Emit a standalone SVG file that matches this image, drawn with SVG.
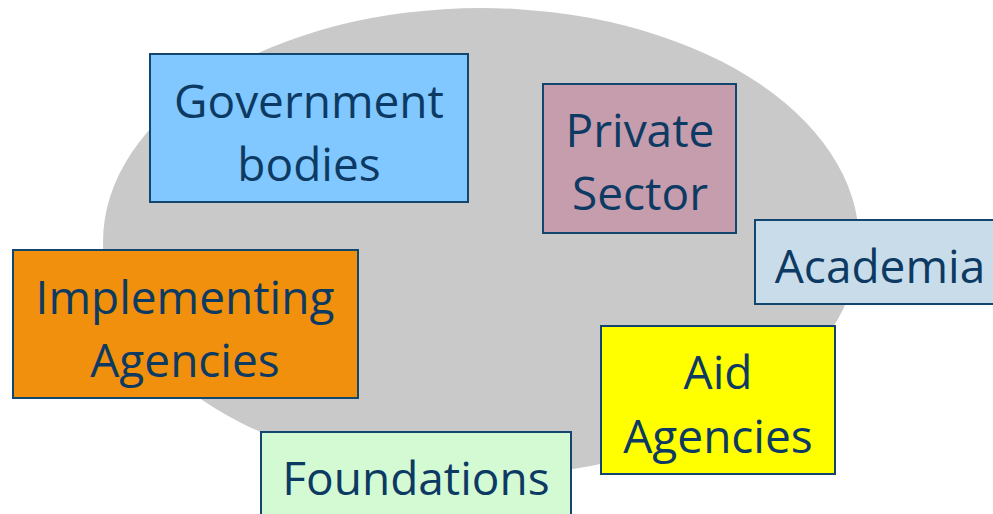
<svg xmlns="http://www.w3.org/2000/svg" width="993" height="514" viewBox="0 0 993 514">
<style>
.box{stroke:#13466f;stroke-width:2}
.t{font-family:"Open Sans","Noto Sans","Liberation Sans",sans-serif;font-size:46px;fill:#0d3a63;text-anchor:middle}
</style>
<rect width="993" height="514" fill="#ffffff"/>
<ellipse id="cloud" cx="481" cy="242" rx="378" ry="234" fill="#c9c9c9"/>
<g id="connectors"></g>
<g id="government">
<rect class="box" x="150" y="54" width="318" height="148" fill="#80c8ff"/>
<text class="t" x="309" y="118">Government</text>
<text class="t" x="309" y="181">bodies</text>
</g>
<g id="private">
<rect class="box" x="543" y="84" width="193" height="149" fill="#c69dad"/>
<text class="t" x="640" y="147">Private</text>
<text class="t" x="640" y="210">Sector</text>
</g>
<g id="academia">
<rect class="box" x="755" y="220" width="250" height="84" fill="#c9dcea"/>
<text class="t" x="880" y="283">Academia</text>
</g>
<g id="implementing">
<rect class="box" x="13" y="250" width="345" height="148" fill="#f0900c"/>
<text class="t" x="185" y="314">Implementing</text>
<text class="t" x="185" y="377">Agencies</text>
</g>
<g id="aid">
<rect class="box" x="601" y="326" width="234" height="148" fill="#ffff00"/>
<text class="t" x="718" y="389">Aid</text>
<text class="t" x="718" y="453">Agencies</text>
</g>
<g id="foundations">
<rect class="box" x="261" y="432" width="310" height="100" fill="#d4fad4"/>
<text class="t" x="416" y="495">Foundations</text>
</g>
</svg>
